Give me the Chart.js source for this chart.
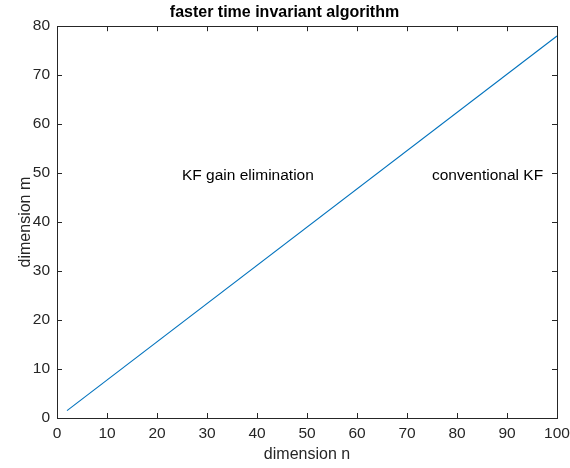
<!DOCTYPE html>
<html>
<head>
  <script src="https://cdn.jsdelivr.net/npm/chart.js"></script>
  <style>
    body { margin: 0; background: #fff; }
    #wrap { width: 570px; height: 468px; }
  </style>
</head>
<body>
  <div id="wrap"><canvas id="myChart"></canvas></div>
  <script>
    // values
    const dimN = [2, 100];
    const dimM = [1.5, 78];
    const xTicks = [0, 10, 20, 30, 40, 50, 60, 70, 80, 90, 100];
    const yTicks = [0, 10, 20, 30, 40, 50, 60, 70, 80];
    const notes = [
      { text: 'KF gain elimination', x: 25, y: 49.5 },
      { text: 'conventional KF', x: 75, y: 49.5 }
    ];

    const fontName = "'Liberation Sans', Arial, sans-serif";

    // matlab style box, inward ticks and text labels
    const boxPlugin = {
      id: 'box',
      afterDatasetsDraw(chart) {
        const { ctx, chartArea: a, scales } = chart;
        ctx.save();
        ctx.strokeStyle = '#262626';
        ctx.lineWidth = 1;
        ctx.beginPath();
        xTicks.forEach(v => {
          const px = Math.round(scales.x.getPixelForValue(v)) + 0.5;
          ctx.moveTo(px, a.bottom); ctx.lineTo(px, a.bottom - 5);
          ctx.moveTo(px, a.top); ctx.lineTo(px, a.top + 5);
        });
        yTicks.forEach(v => {
          const py = Math.round(scales.y.getPixelForValue(v)) + 0.5;
          ctx.moveTo(a.left, py); ctx.lineTo(a.left + 5, py);
          ctx.moveTo(a.right, py); ctx.lineTo(a.right - 5, py);
        });
        ctx.stroke();
        ctx.strokeRect(Math.round(a.left) + 0.5, Math.round(a.top) + 0.5,
          Math.round(a.right - a.left), Math.round(a.bottom - a.top));

        ctx.fillStyle = '#000';
        ctx.font = '15.5px ' + fontName;
        ctx.textBaseline = 'middle';
        ctx.textAlign = 'left';
        notes.forEach(n => {
          ctx.fillText(n.text, scales.x.getPixelForValue(n.x), scales.y.getPixelForValue(n.y));
        });
        ctx.restore();
      }
    };

    new Chart(document.getElementById('myChart'), {
      type: 'scatter',
      data: {
        datasets: [{
          data: dimN.map((n, i) => ({ x: n, y: dimM[i] })),
          showLine: true,
          borderColor: '#0072BD',
          borderWidth: 1.1,
          pointRadius: 0,
          fill: false
        }]
      },
      options: {
        responsive: true,
        maintainAspectRatio: false,
        animation: false,
        layout: { padding: { left: 12, right: 13, top: 0, bottom: 0 } },
        plugins: {
          legend: { display: false },
          tooltip: { enabled: false },
          title: {
            display: true,
            text: 'faster time invariant algorithm',
            color: '#000',
            font: { family: fontName, size: 16, weight: 'bold' },
            padding: { top: 3, bottom: 4 }
          }
        },
        scales: {
          x: {
            type: 'linear', min: 0, max: 100,
            afterBuildTicks: s => { s.ticks = xTicks.map(v => ({ value: v })); },
            afterFit: s => { s.height = 50; s.paddingLeft = 0; s.paddingRight = 0; },
            grid: { display: false, drawTicks: false },
            border: { display: false },
            ticks: { color: '#262626', font: { family: fontName, size: 15.5 }, padding: 6, maxRotation: 0 },
            title: { display: true, text: 'dimension n', color: '#262626', font: { family: fontName, size: 16 }, padding: { top: 4 } }
          },
          y: {
            type: 'linear', min: 0, max: 80,
            afterBuildTicks: s => { s.ticks = yTicks.map(v => ({ value: v })); },
            afterFit: s => { s.width = 45; s.paddingTop = 0; s.paddingBottom = 0; },
            grid: { display: false, drawTicks: false },
            border: { display: false },
            ticks: { color: '#262626', font: { family: fontName, size: 15.5 }, padding: 7 },
            title: { display: true, text: 'dimension m', color: '#262626', font: { family: fontName, size: 16 }, padding: { bottom: 2 } }
          }
        }
      },
      plugins: [boxPlugin]
    });
  </script>
</body>
</html>
